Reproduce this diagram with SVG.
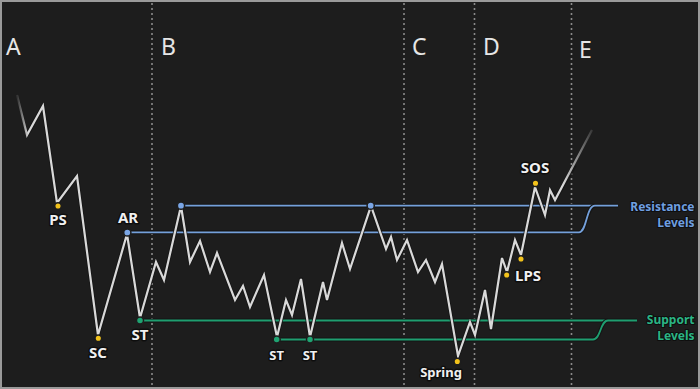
<svg xmlns="http://www.w3.org/2000/svg" width="700" height="389" viewBox="0 0 700 389">
<defs>
<linearGradient id="fade" gradientUnits="userSpaceOnUse" x1="17" y1="0" x2="592" y2="0">
<stop offset="0" stop-color="#d9d9d9" stop-opacity="0.1"/>
<stop offset="0.02" stop-color="#d9d9d9" stop-opacity="1"/>
<stop offset="0.95" stop-color="#d9d9d9" stop-opacity="1"/>
<stop offset="1" stop-color="#d9d9d9" stop-opacity="0.15"/>
</linearGradient>
<style>
.grid{stroke:#8a8a8a;stroke-width:1.6;stroke-dasharray:2 3;fill:none}
.phase{font-family:"Noto Sans","Liberation Sans",sans-serif;font-size:23px;fill:#e6e6e6}
.lbl{font-family:"Noto Sans","Liberation Sans",sans-serif;font-weight:700;font-size:15px;fill:#f0f0f0;stroke:#0e0e0e;stroke-width:3;paint-order:stroke;stroke-linejoin:round;text-anchor:middle}
.sm{font-size:13px}
.res{stroke:#74a0da;stroke-width:1.8;fill:none}
.sup{stroke:#1f9e70;stroke-width:1.8;fill:none}
.halo{stroke:#151515;stroke-width:4;fill:none;stroke-linejoin:round}
.price{stroke:url(#fade);stroke-width:2.2;fill:none;stroke-linejoin:miter}
.ydot{fill:#f2c21b;stroke:#1d1d1d;stroke-width:1.5}
.bdot{fill:#7aa6e6;stroke:#1d1d1d;stroke-width:1.5}
.gdot{fill:#1fa372;stroke:#1d1d1d;stroke-width:1.5}
.rtxt{font-family:"Noto Sans","Liberation Sans",sans-serif;font-weight:700;font-size:12px;fill:#6f9fe0;stroke:#0e0e0e;stroke-width:2;paint-order:stroke;text-anchor:end}
.stxt{font-family:"Noto Sans","Liberation Sans",sans-serif;font-weight:700;font-size:12px;fill:#2bb585;stroke:#0e0e0e;stroke-width:2;paint-order:stroke;text-anchor:end}
</style>
</defs>
<rect x="1" y="1" width="698" height="387" fill="#1d1d1d" stroke="#9a9a9a" stroke-width="2"/>
<g id="grid">
<line class="grid" x1="152" y1="3" x2="152" y2="387"/>
<line class="grid" x1="404" y1="3" x2="404" y2="387"/>
<line class="grid" x1="474.5" y1="3" x2="474.5" y2="387"/>
<line class="grid" x1="571.5" y1="3" x2="571.5" y2="387"/>
</g>
<g id="phases">
<text class="phase" x="6" y="55">A</text>
<text class="phase" x="161" y="55">B</text>
<text class="phase" x="412" y="55">C</text>
<text class="phase" x="483" y="55">D</text>
<text class="phase" x="579" y="58">E</text>
</g>
<g id="connectors">
<path class="halo" d="M181,205.7 H618"/>
<path class="res" d="M181,205.7 H618"/>
<path class="halo" d="M127,232.3 H579 C587,232.3 586,205.7 595,205.7"/>
<path class="res" d="M127,232.3 H579 C587,232.3 586,205.7 595,205.7"/>
<path class="halo" d="M140,320.5 H637"/>
<path class="sup" d="M140,320.5 H637"/>
<path class="halo" d="M277,339.5 H593 C601,339.5 600,320.5 608,320.5"/>
<path class="sup" d="M277,339.5 H593 C601,339.5 600,320.5 608,320.5"/>
</g>
<g id="price">
<polyline class="halo" stroke-opacity="0.8" points="27,135 43,106 57,203 77,176 98,335 127,234 140,318 156,262 164,280 181,206 190,262 200,241 210,272 217,253 235,300 243,286 250,307 264,275 277,337 286,300 292,315 301,279 310,337 323,282 327,300 342,243 350,269 371,206 386,249 391,237 397,260 407,240 418,272 426,260 435,282 442,264 458,356 470,322 475,335 485,290 491,329 502,258 507,272 515,240 521,255 535,187 545,215 550,190 555,200 575,165"/>
<polyline class="price" points="17,95 27,135 43,106 57,203 77,176 98,335 127,234 140,318 156,262 164,280 181,206 190,262 200,241 210,272 217,253 235,300 243,286 250,307 264,275 277,337 286,300 292,315 301,279 310,337 323,282 327,300 342,243 350,269 371,206 386,249 391,237 397,260 407,240 418,272 426,260 435,282 442,264 458,356 470,322 475,335 485,290 491,329 502,258 507,272 515,240 521,255 535,187 545,215 550,190 555,200 592,130"/>
</g>
<g id="node-ps"><circle class="ydot" cx="58" cy="206" r="3.3"/><text class="lbl" x="58" y="225">PS</text></g>
<g id="node-sc"><circle class="ydot" cx="98.3" cy="338.3" r="3.3"/><text class="lbl" x="98" y="358">SC</text></g>
<g id="node-ar"><circle class="bdot" cx="127.3" cy="232.5" r="3.6"/><text class="lbl" x="128" y="223">AR</text></g>
<g id="node-st1"><circle class="gdot" cx="140" cy="320.5" r="3.5"/><text class="lbl" x="140" y="340">ST</text></g>
<g id="node-res1"><circle class="bdot" cx="181" cy="205.7" r="3.6"/></g>
<g id="node-st2"><circle class="gdot" cx="276.7" cy="339.5" r="3.5"/><text class="lbl sm" x="276.7" y="360">ST</text></g>
<g id="node-st3"><circle class="gdot" cx="310" cy="339.5" r="3.5"/><text class="lbl sm" x="310" y="360">ST</text></g>
<g id="node-res2"><circle class="bdot" cx="370.7" cy="205.7" r="3.6"/></g>
<g id="node-spring"><circle class="ydot" cx="457.3" cy="361.5" r="3.3"/><text class="lbl sm" x="441" y="377">Spring</text></g>
<g id="node-lps"><circle class="ydot" cx="506.7" cy="275" r="3.3"/><circle class="ydot" cx="521" cy="259" r="3.3"/><text class="lbl" x="515" y="281" style="text-anchor:start">LPS</text></g>
<g id="node-sos"><circle class="ydot" cx="535.5" cy="183.3" r="3.3"/><text class="lbl" x="535" y="173">SOS</text></g>
<g id="resistance-label"><text class="rtxt" x="694.5" y="210.5">Resistance</text><text class="rtxt" x="694.5" y="226.5">Levels</text></g>
<g id="support-label"><text class="stxt" x="694.5" y="323.5">Support</text><text class="stxt" x="694.5" y="339.5">Levels</text></g>
</svg>
